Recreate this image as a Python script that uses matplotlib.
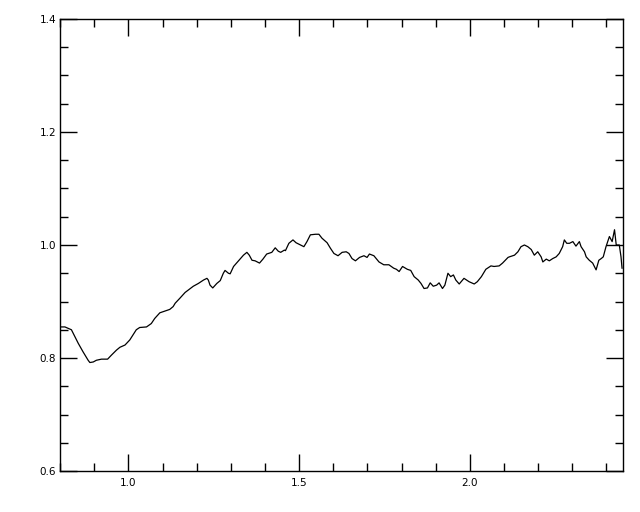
import matplotlib
matplotlib.use("Agg")
import matplotlib.pyplot as plt
from matplotlib.ticker import MultipleLocator

# valores
x = [0.804, 0.814, 0.833, 0.853, 0.867, 0.882, 0.887, 0.897, 0.906, 0.921,
     0.939, 0.950, 0.965, 0.975, 0.990, 1.004, 1.023, 1.033, 1.053, 1.067,
     1.077, 1.092, 1.107, 1.121, 1.131, 1.137, 1.151, 1.166, 1.181, 1.190,
     1.205, 1.220, 1.230, 1.234, 1.239, 1.247, 1.259, 1.269, 1.278, 1.283,
     1.293, 1.298, 1.308, 1.318, 1.327, 1.337, 1.347, 1.354, 1.362, 1.371,
     1.384, 1.394, 1.405, 1.420, 1.430, 1.439, 1.446, 1.457, 1.460, 1.470,
     1.482, 1.491, 1.504, 1.514, 1.523, 1.533, 1.548, 1.558, 1.567, 1.582,
     1.592, 1.602, 1.614, 1.626, 1.638, 1.646, 1.655, 1.665, 1.677, 1.690,
     1.699, 1.706, 1.719, 1.734, 1.748, 1.763, 1.777, 1.785, 1.793, 1.803,
     1.817, 1.827, 1.837, 1.849, 1.857, 1.866, 1.876, 1.884, 1.893, 1.903,
     1.910, 1.920, 1.927, 1.936, 1.944, 1.952, 1.959, 1.969, 1.983, 1.998,
     2.013, 2.022, 2.034, 2.047, 2.062, 2.071, 2.086, 2.096, 2.112, 2.116,
     2.131, 2.141, 2.150, 2.160, 2.170, 2.180, 2.189, 2.199, 2.209, 2.214,
     2.224, 2.233, 2.243, 2.253, 2.262, 2.272, 2.277, 2.284, 2.292, 2.302,
     2.311, 2.321, 2.326, 2.336, 2.341, 2.350, 2.360, 2.370, 2.378, 2.385,
     2.391, 2.399, 2.409, 2.417, 2.424, 2.429, 2.438, 2.443, 2.446]
y = [0.855, 0.855, 0.850, 0.826, 0.811, 0.796, 0.792, 0.793, 0.796, 0.798,
     0.798, 0.805, 0.814, 0.819, 0.823, 0.832, 0.850, 0.854, 0.855, 0.861,
     0.870, 0.880, 0.883, 0.886, 0.891, 0.897, 0.906, 0.916, 0.923, 0.927,
     0.932, 0.938, 0.941, 0.938, 0.929, 0.924, 0.932, 0.937, 0.950, 0.955,
     0.950, 0.949, 0.962, 0.969, 0.975, 0.982, 0.987, 0.982, 0.973, 0.972,
     0.968, 0.975, 0.984, 0.987, 0.995, 0.989, 0.987, 0.991, 0.990, 1.003,
     1.009, 1.004, 1.000, 0.997, 1.006, 1.018, 1.019, 1.019, 1.012, 1.004,
     0.994, 0.985, 0.981, 0.987, 0.988, 0.985, 0.976, 0.972, 0.978, 0.981,
     0.978, 0.984, 0.981, 0.970, 0.965, 0.965, 0.959, 0.957, 0.953, 0.962,
     0.957, 0.955, 0.944, 0.938, 0.932, 0.923, 0.924, 0.933, 0.927, 0.929,
     0.933, 0.923, 0.929, 0.950, 0.944, 0.947, 0.938, 0.931, 0.941, 0.935,
     0.931, 0.935, 0.944, 0.957, 0.963, 0.962, 0.963, 0.968, 0.978, 0.979,
     0.982, 0.988, 0.997, 1.000, 0.997, 0.992, 0.982, 0.988, 0.979, 0.970,
     0.975, 0.972, 0.976, 0.979, 0.985, 0.997, 1.009, 1.003, 1.003, 1.006,
     0.998, 1.006, 0.997, 0.988, 0.979, 0.973, 0.968, 0.956, 0.973, 0.976,
     0.979, 0.997, 1.015, 1.006, 1.027, 1.000, 1.000, 0.979, 0.959]

fig = plt.figure(figsize=(6.4, 5.12), dpi=100)
ax = fig.add_axes([0.094, 0.080, 0.879, 0.883])
ax.plot(x, y, color="black", linewidth=0.9)

ax.set_xlim(0.8, 2.448)
ax.set_ylim(0.6, 1.4)
ax.xaxis.set_major_locator(MultipleLocator(0.5))
ax.xaxis.set_minor_locator(MultipleLocator(0.1))
ax.yaxis.set_major_locator(MultipleLocator(0.2))
ax.yaxis.set_minor_locator(MultipleLocator(0.05))
ax.tick_params(which="both", direction="in", top=True, right=True,
               width=1, color="black", labelsize=7.5)
ax.tick_params(which="major", length=12)
ax.tick_params(which="minor", length=6)
ax.tick_params(axis="x", which="major", pad=5)
ax.tick_params(axis="y", which="major", pad=3)
for s in ax.spines.values():
    s.set_linewidth(1)

fig.savefig("out.png", dpi=100)
